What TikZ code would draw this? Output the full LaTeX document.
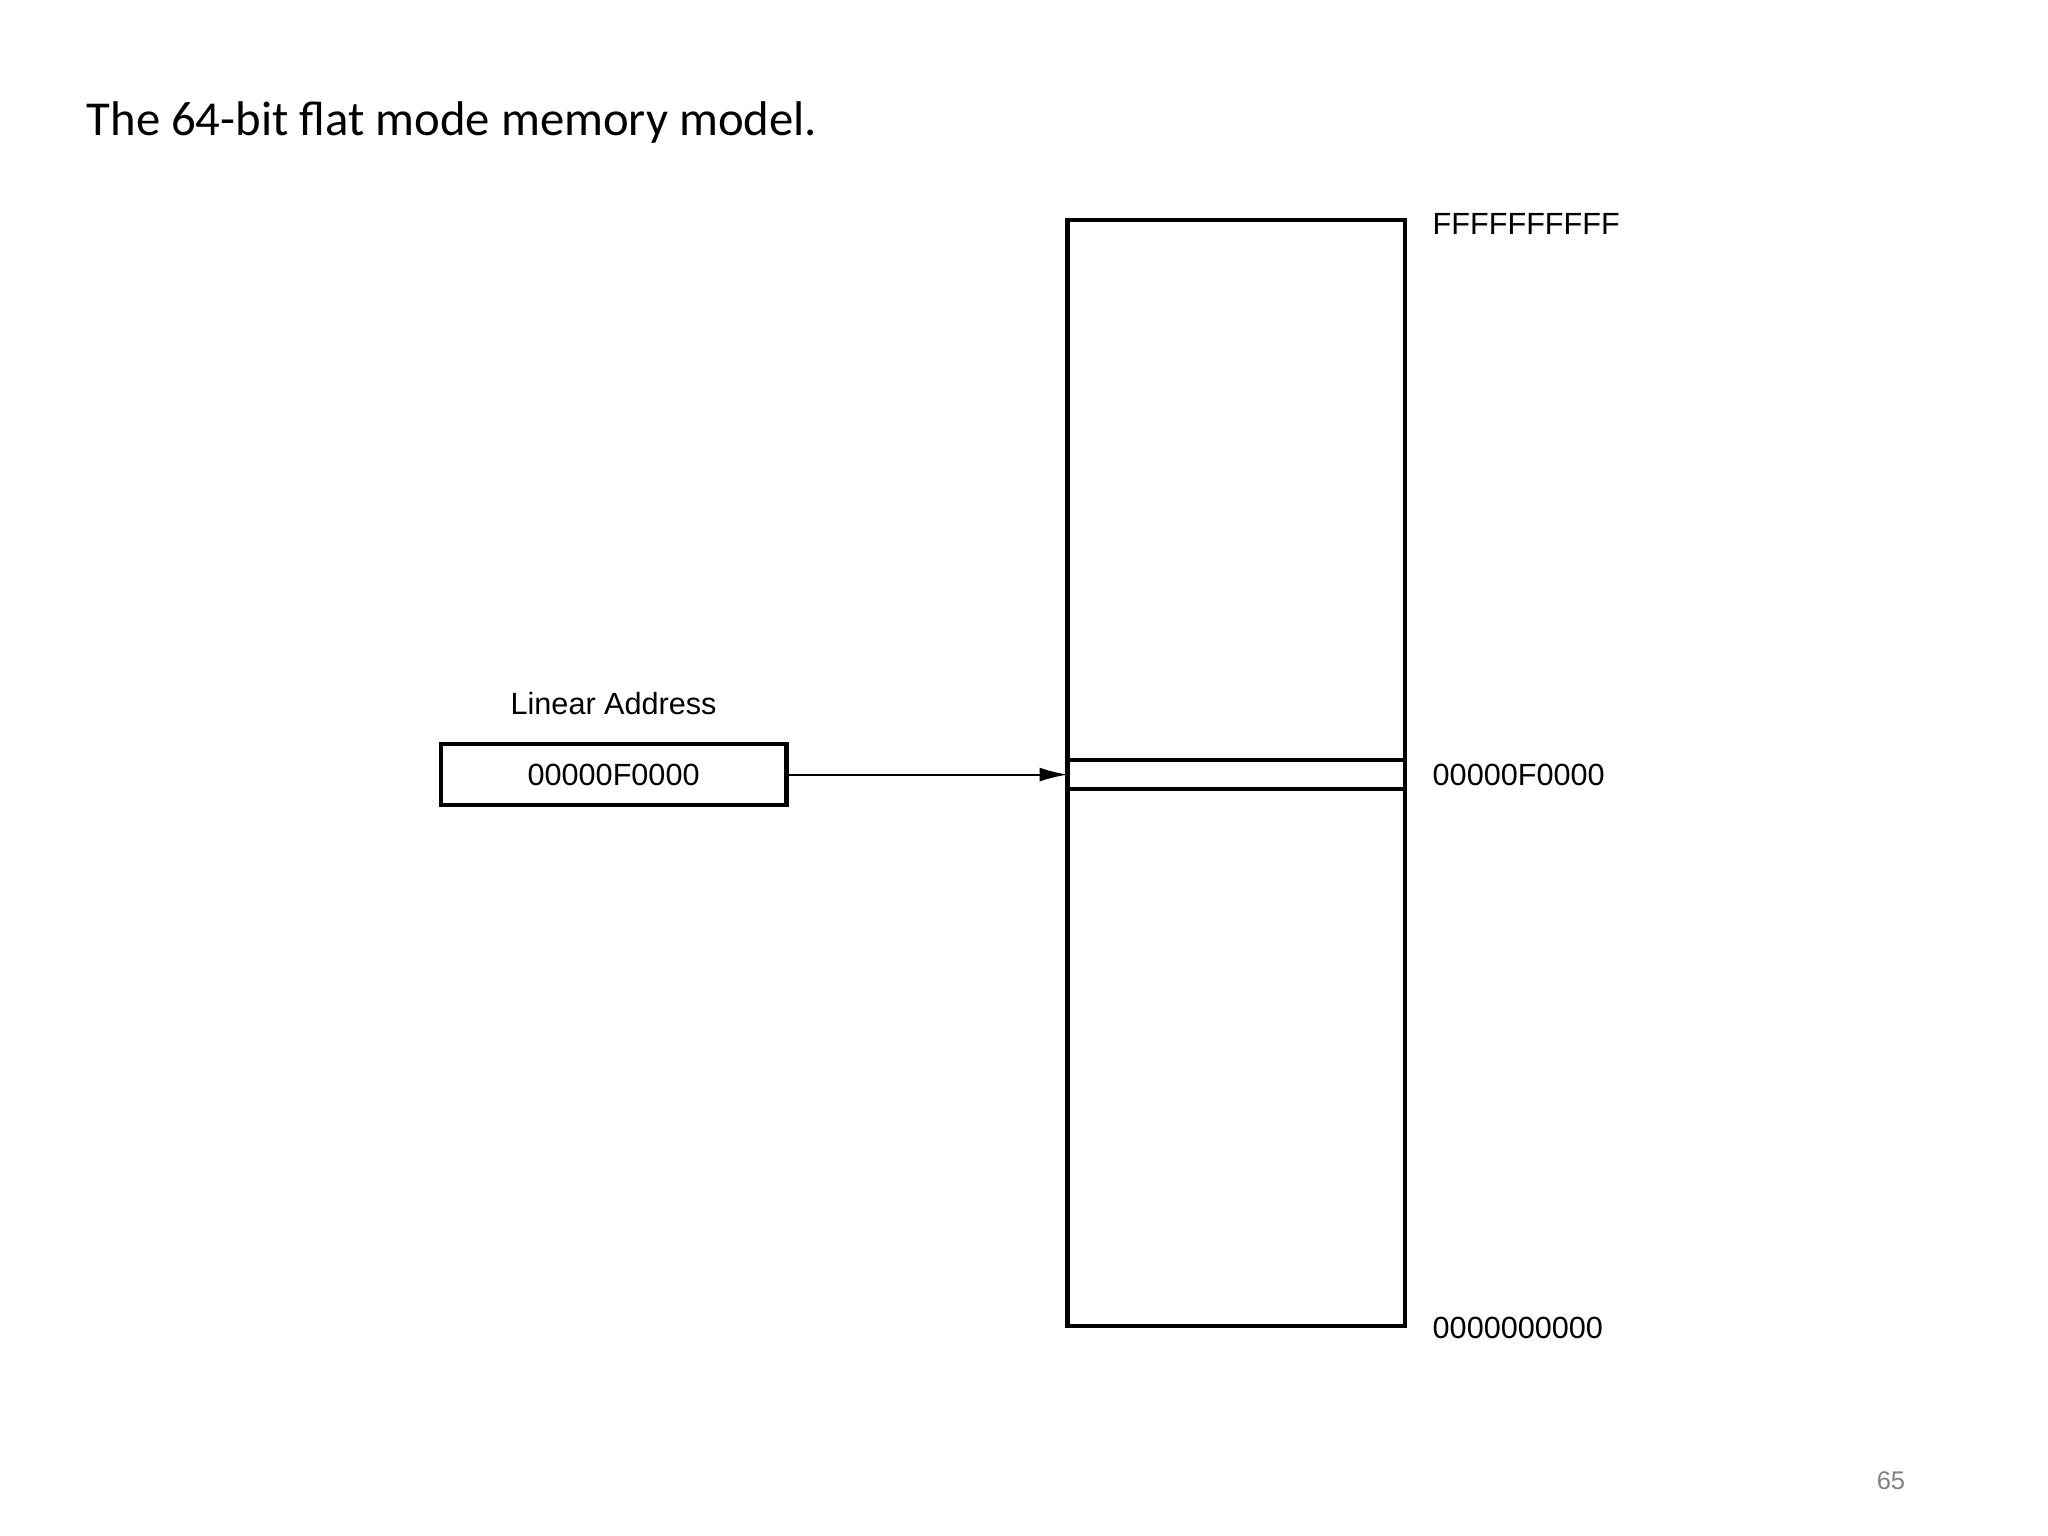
\documentclass[tikz,border=0pt]{standalone}
\usepackage{fontspec}
\setmainfont{Liberation Sans}
\newfontfamily\titlefont{Carlito}
\usetikzlibrary{arrows.meta}
\begin{document}
\begin{tikzpicture}[x=0.01cm,y=-0.01cm,
  lab/.style={font=\fontsize{6.6}{8}\selectfont, inner sep=0pt},
  box/.style={draw, line width=0.9pt}]
\useasboundingbox (0,0) rectangle (1552,1164);
\node[anchor=base west, inner sep=0pt, font=\titlefont\fontsize{10.5}{12}\selectfont] (title) at (65,103) {The 64-bit flat mode memory model.};
\draw[box] (809,167) rectangle (1065,1005);
\draw[box] (809,576) -- (1065,576);
\draw[box] (809,598) -- (1065,598);
\coordinate (slot) at (809,587);
\node[lab, anchor=west] (top) at (1085,170) {FFFFFFFFFF};
\node[lab, anchor=west] (mid) at (1085,587) {00000F0000};
\node[lab, anchor=west] (bot) at (1085,1006) {0000000000};
\node[box, minimum width=262\pgflinewidth, inner sep=0pt, minimum width=2.62cm, minimum height=0.46cm, lab] (addr) at (465,587) {00000F0000};
\node[lab] (cap) at (465,533) {Linear Address};
\draw[-{Latex[length=6pt,width=3pt]}, line width=0.4pt] (addr.east) -- (slot);
\node[font=\fontsize{5.5}{6}\selectfont, text=gray] (pg) at (1433,1122) {65};
\end{tikzpicture}
\end{document}
